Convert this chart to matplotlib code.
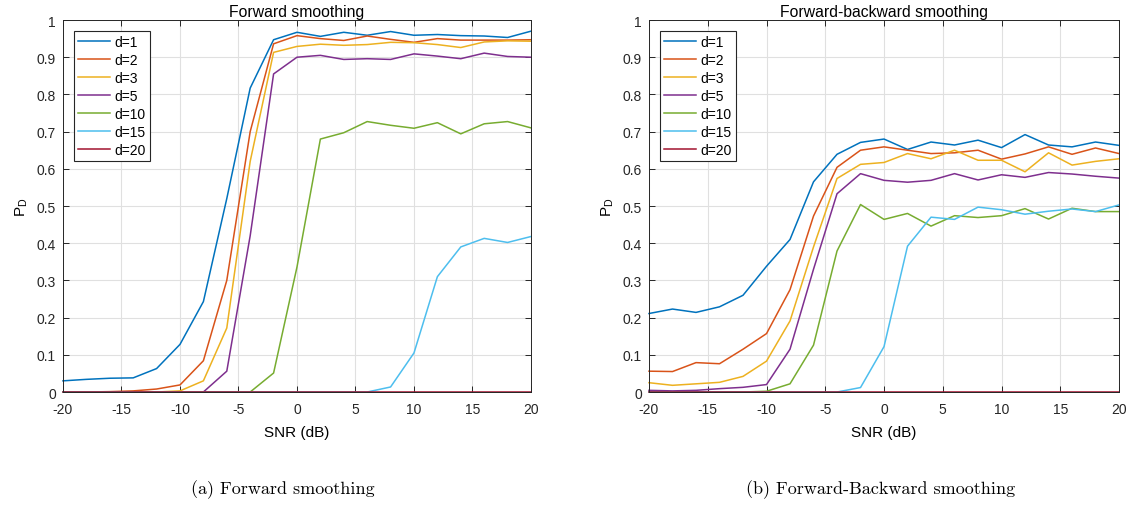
import numpy as np
import matplotlib
matplotlib.use("Agg")
import matplotlib.pyplot as plt

snr = np.arange(-20, 21, 2)
labels = ["d=1", "d=2", "d=3", "d=5", "d=10", "d=15", "d=20"]
colors = ["#0072BD", "#D95319", "#EDB120", "#7E2F8E", "#77AC30", "#4DBEEE", "#A2142F"]

# forward smoothing
fwd_d1 = [0.030, 0.034, 0.037, 0.038, 0.063, 0.128, 0.243, 0.520, 0.817, 0.947, 0.967,
          0.956, 0.967, 0.959, 0.969, 0.959, 0.961, 0.958, 0.957, 0.953, 0.970]
fwd_d2 = [0.0, 0.0, 0.001, 0.003, 0.008, 0.019, 0.084, 0.300, 0.700, 0.936, 0.958,
          0.950, 0.945, 0.957, 0.948, 0.940, 0.950, 0.946, 0.946, 0.946, 0.947]
fwd_d3 = [0.0, 0.0, 0.0, 0.0, 0.0, 0.003, 0.030, 0.172, 0.620, 0.913, 0.929,
          0.935, 0.932, 0.934, 0.940, 0.939, 0.934, 0.926, 0.941, 0.944, 0.943]
fwd_d5 = [0.0, 0.0, 0.0, 0.0, 0.0, 0.0, 0.0, 0.056, 0.420, 0.855, 0.900,
          0.905, 0.894, 0.896, 0.894, 0.909, 0.903, 0.896, 0.911, 0.902, 0.900]
fwd_d10 = [0.0, 0.0, 0.0, 0.0, 0.0, 0.0, 0.0, 0.0, 0.0, 0.051, 0.336,
           0.680, 0.697, 0.727, 0.717, 0.709, 0.724, 0.694, 0.721, 0.727, 0.710]
fwd_d15 = [0.0, 0.0, 0.0, 0.0, 0.0, 0.0, 0.0, 0.0, 0.0, 0.0, 0.0,
           0.0, 0.0, 0.0, 0.0135, 0.105, 0.310, 0.390, 0.413, 0.402, 0.418]
fwd_d20 = [0.0] * 21

# forward-backward smoothing
fb_d1 = [0.211, 0.223, 0.214, 0.229, 0.260, 0.338, 0.410, 0.565, 0.639, 0.671, 0.680,
         0.652, 0.672, 0.664, 0.677, 0.657, 0.692, 0.664, 0.659, 0.672, 0.663]
fb_d2 = [0.056, 0.055, 0.079, 0.076, 0.115, 0.157, 0.275, 0.473, 0.604, 0.650, 0.659,
         0.650, 0.641, 0.643, 0.650, 0.626, 0.640, 0.659, 0.639, 0.656, 0.641]
fb_d3 = [0.025, 0.018, 0.022, 0.026, 0.042, 0.083, 0.191, 0.390, 0.574, 0.612, 0.617,
         0.641, 0.627, 0.650, 0.623, 0.623, 0.592, 0.643, 0.610, 0.620, 0.627]
fb_d5 = [0.0045, 0.003, 0.0045, 0.009, 0.0126, 0.020, 0.115, 0.330, 0.533, 0.587, 0.569,
         0.564, 0.569, 0.587, 0.570, 0.584, 0.577, 0.590, 0.586, 0.580, 0.575]
fb_d10 = [0.0, 0.0, 0.0, 0.0, 0.0, 0.002, 0.022, 0.126, 0.379, 0.504, 0.464,
          0.480, 0.446, 0.474, 0.469, 0.474, 0.493, 0.465, 0.494, 0.485, 0.485]
fb_d15 = [0.0, 0.0, 0.0, 0.0, 0.0, 0.0, 0.0, 0.0, 0.0, 0.012, 0.122,
          0.392, 0.470, 0.464, 0.497, 0.490, 0.478, 0.486, 0.492, 0.485, 0.503]
fb_d20 = [0.0] * 21

plt.rcParams["font.family"] = ["Liberation Sans", "DejaVu Sans"]
plt.rcParams["axes.unicode_minus"] = False

fig = plt.figure(figsize=(11.37, 5.10), dpi=100)
ax1 = fig.add_axes([0.0554, 0.2294, 0.4116, 0.7294])
ax2 = fig.add_axes([0.5708, 0.2294, 0.4134, 0.7294])


def draw(ax, series, title):
    for ys, c, lab in zip(series, colors, labels):
        ax.plot(snr, ys, color=c, lw=1.1, label=lab, clip_on=False)
    ax.set_xlim(-20, 20)
    ax.set_ylim(0, 1)
    ax.set_xticks(np.arange(-20, 21, 5))
    ax.set_yticks(np.arange(0, 1.01, 0.1))
    ax.set_yticklabels(["0"] + ["%.1f" % v for v in np.arange(0.1, 0.95, 0.1)] + ["1"])
    ax.grid(True, color="#e0e0e0", lw=0.8)
    ax.set_axisbelow(True)
    ax.tick_params(direction="in", top=True, right=True, labelsize=10,
                   length=4, width=0.7, colors="#262626")
    ax.tick_params(axis="x", pad=7)
    ax.tick_params(axis="y", pad=5)
    for s in ax.spines.values():
        s.set_color("#262626")
        s.set_linewidth(0.7)
    ax.set_title(title, fontsize=11.3, color="#000000", pad=3)
    ax.set_xlabel("SNR (dB)", fontsize=11, labelpad=7)
    ax.set_ylabel("P$_{\\mathregular{D}}$", fontsize=11, labelpad=5)
    leg = ax.legend(loc="upper left", fontsize=10, fancybox=False, framealpha=1,
                    edgecolor="#262626", handlelength=2.3, handletextpad=0.3,
                    borderpad=0.3, labelspacing=0.28, borderaxespad=0,
                    bbox_to_anchor=(0.024, 0.970))
    leg.get_frame().set_linewidth(0.8)


draw(ax1, [fwd_d1, fwd_d2, fwd_d3, fwd_d5, fwd_d10, fwd_d15, fwd_d20], "Forward smoothing")
draw(ax2, [fb_d1, fb_d2, fb_d3, fb_d5, fb_d10, fb_d15, fb_d20], "Forward-backward smoothing")

fig.text(0.2483, 0.04, "(a) Forward smoothing", family="cmr10", fontsize=13,
         ha="center", va="center")
fig.text(0.7745, 0.04, "(b) Forward-Backward smoothing", family="cmr10", fontsize=13,
         ha="center", va="center")

fig.savefig("out.png", dpi=100)
